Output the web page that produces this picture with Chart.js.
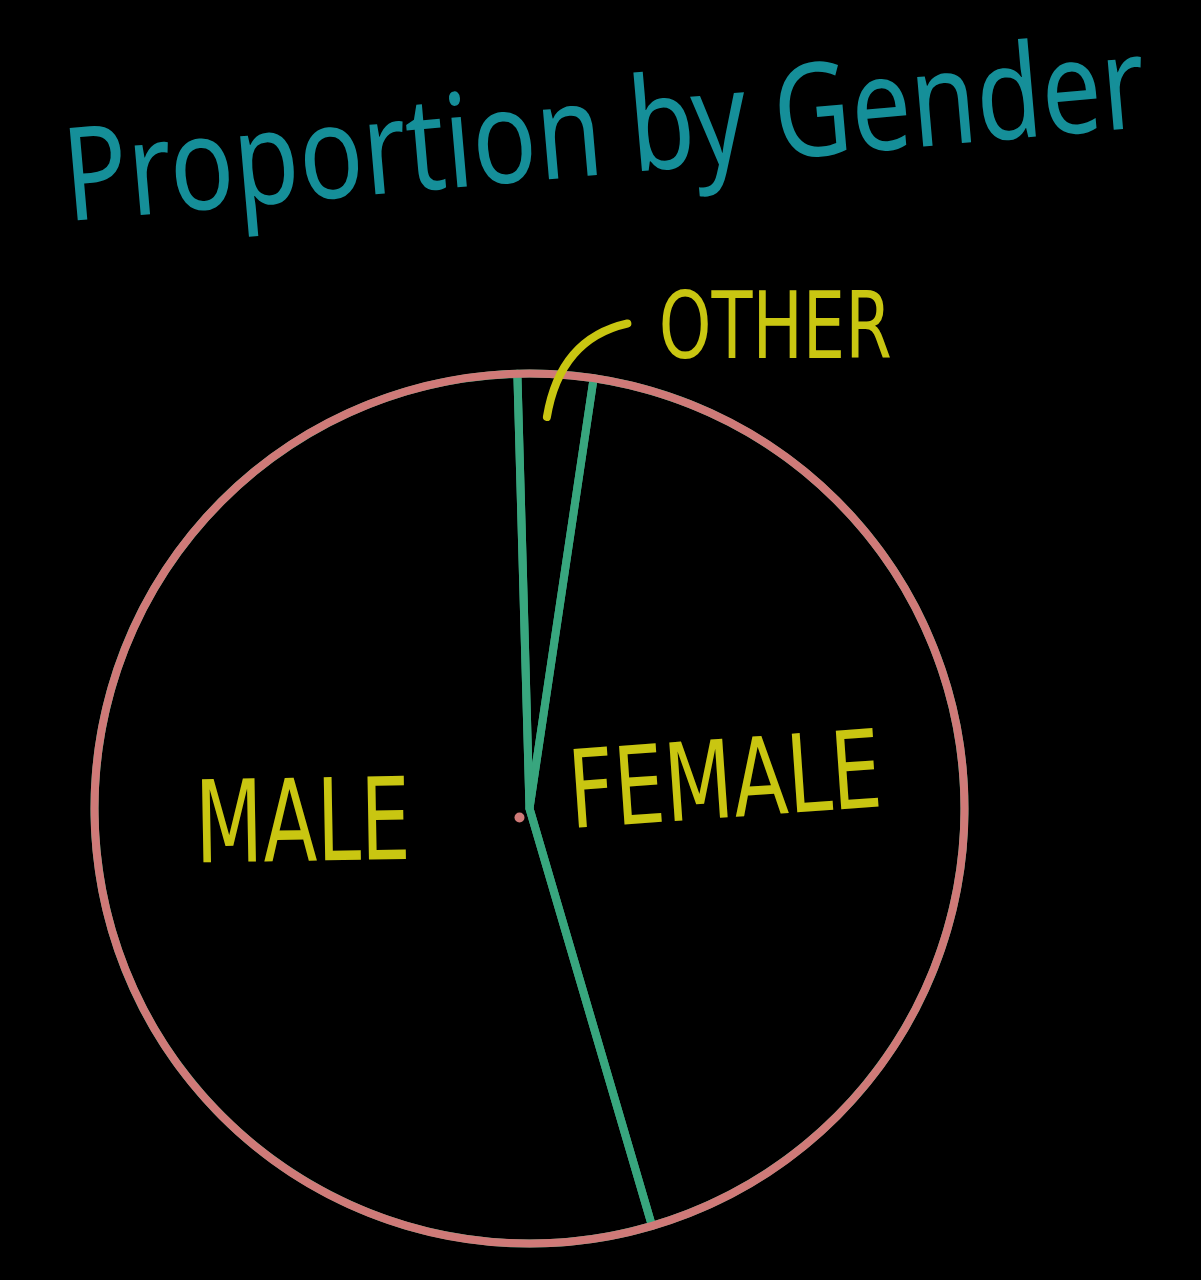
<!DOCTYPE html>
<html>
<head>
<meta charset="utf-8">
<title>Proportion by Gender</title>
<script src="https://cdn.jsdelivr.net/npm/chart.js@4.4.1/dist/chart.umd.min.js"></script>
<style>
    html, body { margin: 0; padding: 0; background: #000; }
    #wrap { width: 1201px; height: 1280px; position: relative; }
</style>
</head>
<body>
<div id="wrap"><canvas id="genderPie"></canvas></div>
<script>
const chartTitle = 'Proportion by Gender';
const genderLabels = ['OTHER', 'FEMALE', 'MALE'];
const genderShares = [2.8, 43.1, 54.1];
const firstSliceAngle = -1.6; // degrees from 12 o'clock

const ringColor = '#cf7a78';
const edgeColor = '#38a67e';
const labelColor = '#c9c611';
const titleColor = '#158f99';

// squeeze text horizontally so it covers about the same width as the hand lettering
function fitText(ctx, text, x, y, size, width, angle, family) {
    ctx.save();
    ctx.translate(x, y);
    ctx.rotate(angle * Math.PI / 180);
    ctx.font = `${size}px ${family}`;
    const w = ctx.measureText(text).width;
    ctx.scale(width / w, 1);
    ctx.textAlign = 'center';
    ctx.textBaseline = 'alphabetic';
    ctx.fillText(text, 0, 0);
    ctx.restore();
}

const sketchPlugin = {
    id: 'sketch',
    afterDatasetsDraw(chart) {
        const { ctx } = chart;
        const arc = chart.getDatasetMeta(0).data[0];
        if (!arc) return;
        const cx = arc.x, cy = arc.y, r = arc.outerRadius;

        ctx.save();
        // outer ring over the green arc borders
        ctx.beginPath();
        ctx.arc(cx, cy, r, 0, Math.PI * 2);
        ctx.strokeStyle = ringColor;
        ctx.lineWidth = 8;
        ctx.stroke();

        // little dot near the centre
        ctx.beginPath();
        ctx.arc(cx - 10, cy + 9, 5, 0, Math.PI * 2);
        ctx.fillStyle = ringColor;
        ctx.fill();

        // title
        ctx.fillStyle = titleColor;
        fitText(ctx, chartTitle, 608, 174, 130, 1085, -5, "'Noto Sans', sans-serif");

        // slice labels, placed relative to the pie centre
        const spots = {
            MALE:   { dx: -0.52, dy: 0.12, size: 114, width: 215, angle: -1 },
            FEMALE: { dx: 0.455, dy: 0.02, size: 108, width: 313, angle: -4 },
            OTHER:  { dx: 0.565, dy: -1.035, size: 92, width: 233, angle: 0 }
        };
        const narrow = "'Liberation Sans Narrow', 'DejaVu Sans Condensed', 'Liberation Sans', sans-serif";
        ctx.fillStyle = labelColor;
        chart.data.labels.forEach(label => {
            const s = spots[label];
            if (!s) return;
            fitText(ctx, label, cx + s.dx * r, cy + s.dy * r, s.size, s.width, s.angle, narrow);
        });

        // leader line for the thin OTHER slice
        ctx.beginPath();
        ctx.moveTo(cx + 0.04 * r, cy - 0.90 * r);
        ctx.quadraticCurveTo(cx + 0.07 * r, cy - 1.08 * r, cx + 0.225 * r, cy - 1.115 * r);
        ctx.strokeStyle = labelColor;
        ctx.lineWidth = 8;
        ctx.lineCap = 'round';
        ctx.stroke();
        ctx.restore();
    }
};

new Chart(document.getElementById('genderPie').getContext('2d'), {
    type: 'pie',
    data: {
        labels: genderLabels,
        datasets: [{
            data: genderShares,
            backgroundColor: 'rgba(0,0,0,0)',
            borderColor: edgeColor,
            borderWidth: 8,
            borderJoinStyle: 'round'
        }]
    },
    options: {
        responsive: true,
        maintainAspectRatio: false,
        animation: false,
        rotation: firstSliceAngle,
        radius: 435,
        layout: { padding: { left: 0, right: 142, top: 337, bottom: 0 } },
        plugins: {
            legend: { display: false },
            tooltip: { enabled: false },
            title: { display: false }
        }
    },
    plugins: [sketchPlugin]
});
</script>
</body>
</html>
